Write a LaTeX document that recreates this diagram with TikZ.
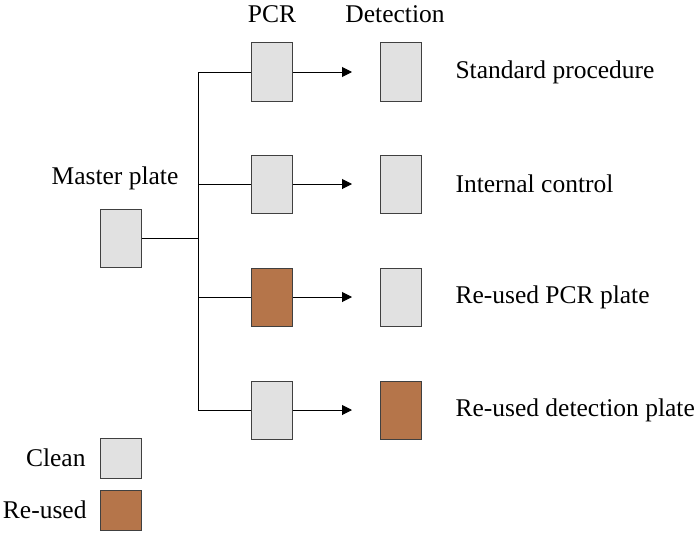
\documentclass[tikz,border=0pt]{standalone}
\usepackage{fontspec}
\setmainfont{Liberation Serif}
\usetikzlibrary{arrows.meta}
\definecolor{cleangray}{HTML}{E1E1E1}
\definecolor{reusedbrown}{HTML}{B5754A}
\definecolor{edgegray}{HTML}{404040}
\begin{document}
\begin{tikzpicture}[x=1pt, y=-1pt, line width=1pt,
    plate/.style={draw=edgegray, fill=cleangray, minimum width=41pt, minimum height=58pt, inner sep=0pt},
    dirty/.style={plate, fill=reusedbrown},
    legendbox/.style={plate, minimum height=40pt},
    label/.style={font=\fontsize{25.5}{30}\selectfont, inner sep=0pt},
    flow/.style={-{Triangle[length=10pt, width=10pt]}, shorten >=28pt}]
    \useasboundingbox (0,0) rectangle (700,535);
    % headings
    \node[label] (pcr) at (272,14) {PCR};
    \node[label] (det) at (395,14) {Detection};
    % master plate
    \node[label] (mlab) at (115,178) {Master plate};
    \node[plate] (m) at (121,238) {};
    \coordinate (split) at (198,238);
    \coordinate (j1) at (198,72);
    \coordinate (j2) at (198,184);
    \coordinate (j3) at (198,297);
    \coordinate (j4) at (198,410);
    \draw (m) -- (split);
    \draw (j1) -- (j4);
    % PCR plates
    \node[plate] (p1) at (272,72) {};
    \node[plate] (p2) at (272,184) {};
    \node[dirty] (p3) at (272,297) {};
    \node[plate] (p4) at (272,410) {};
    % detection plates
    \node[plate] (d1) at (401,72) {};
    \node[plate] (d2) at (401,184) {};
    \node[plate] (d3) at (401,297) {};
    \node[dirty] (d4) at (401,410) {};
    \draw (j1) -- (p1);
    \draw (j2) -- (p2);
    \draw (j3) -- (p3);
    \draw (j4) -- (p4);
    \draw[flow] (p1) -- (d1);
    \draw[flow] (p2) -- (d2);
    \draw[flow] (p3) -- (d3);
    \draw[flow] (p4) -- (d4);
    % row labels
    \node[label, anchor=west] (l1) at (455,72) {Standard procedure};
    \node[label, anchor=west] (l2) at (455,184) {Internal control};
    \node[label, anchor=west] (l3) at (455,297) {Re-used PCR plate};
    \node[label, anchor=west] (l4) at (455,410) {Re-used detection plate};
    % legend
    \node[legendbox] (clean) at (121,458) {};
    \node[legendbox, fill=reusedbrown] (reused) at (121,510) {};
    \node[label, anchor=east] (cleanlab) at (86,458) {Clean};
    \node[label, anchor=east] (reusedlab) at (87,510) {Re-used};
\end{tikzpicture}
\end{document}
